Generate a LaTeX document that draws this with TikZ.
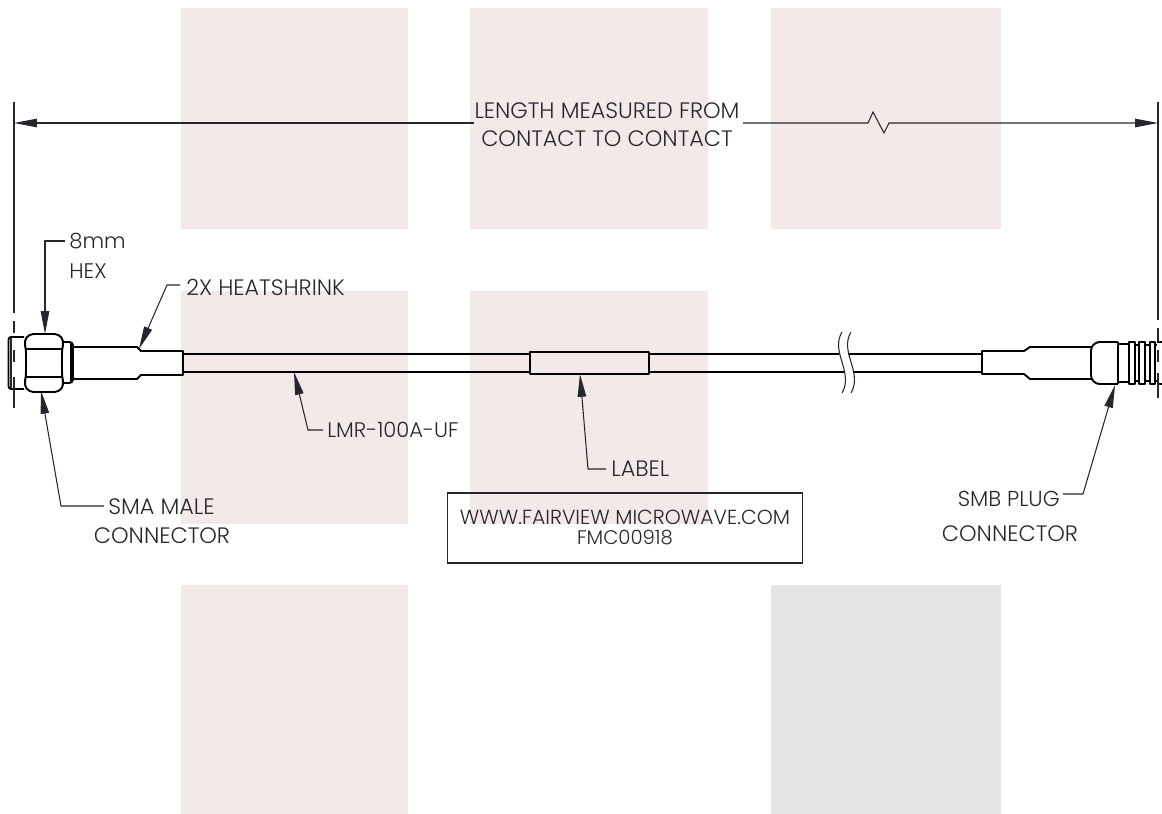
\documentclass[tikz,border=0pt]{standalone}
\usepackage{fontspec}
\setmainfont{Poppins}[UprightFont=* Light]
\usetikzlibrary{arrows.meta}
\definecolor{blockpink}{HTML}{F4E9E9}
\definecolor{blockgray}{HTML}{E4E4E4}
\definecolor{inkgray}{HTML}{26262E}
\tikzset{
  block/.style={fill=blockpink},
  part/.style={draw=black, line width=1.1pt, line join=round},
  thinline/.style={draw=inkgray, line width=0.6pt},
  leader/.style={thinline, -{Stealth[length=13pt, width=4.8pt, inset=0pt]}},
  caption/.style={text=inkgray, font=\fontsize{12.7}{14}\selectfont, inner sep=0pt},
}
\begin{document}
\begin{tikzpicture}[x=0.02cm, y=-0.02cm]
      \useasboundingbox (0, 0) rectangle (1162, 814);
      % background blocks
      \foreach \xa/\xb in {181/408, 470/708, 771/1001}{
        \fill[block] (\xa, 8) rectangle (\xb, 229); }
      \foreach \xa/\xb in {181/408, 470/708}{
        \fill[block] (\xa, 291) rectangle (\xb, 524); }
      \fill[block] (181, 585) rectangle (408, 814);
      \fill[blockgray] (771, 585) rectangle (1001, 814);

      % cable
      \draw[part] (183, 354) -- (530, 354) (183, 372) -- (530, 372);
      \draw[part] (649, 354) -- (839, 354) (848, 354) -- (982, 354);
      \draw[part] (649, 372) -- (845, 372) (854, 372) -- (982, 372);
      \draw[part] (530, 352) rectangle (649, 374);
      \draw[thinline] (842, 332) .. controls (830, 352) and (854, 372) .. (842, 393);
      \draw[thinline] (851, 332) .. controls (839, 352) and (863, 372) .. (851, 393);

      % SMA connector
      \draw[part, rounded corners=1.5pt] (24, 337) -- (8.5, 337) -- (8.5, 389) -- (24, 389);
      \draw[thinline] (11, 338) -- (11, 388);
      \draw[part, rounded corners=2.5pt] (24, 341) -- (29, 334) -- (59, 334) -- (64, 341) -- (62, 349)
        -- (62, 377) -- (64, 385) -- (59, 392) -- (29, 392) -- (24, 385) -- (26, 377) -- (26, 349) -- cycle;
      \draw[part] (26, 349) -- (62, 349) (26, 377) -- (62, 377);
      \draw[part, rounded corners=2pt] (64, 342) -- (73, 342) -- (73, 383) -- (64, 383);
      \draw[part] (71, 343) -- (71, 382);
      \draw[part] (73, 347) -- (137, 347) -- (141, 351) -- (183, 351) -- (183, 375)
        -- (141, 375) -- (137, 379) -- (73, 379);

      % SMB connector
      \draw[part] (1092, 347) -- (1030, 347) -- (1024, 351) -- (982, 351) -- (982, 374)
        -- (1024, 374) -- (1030, 379) -- (1092, 379);
      \draw[part, rounded corners=5pt] (1118, 342) -- (1091, 342) -- (1091, 384) -- (1118, 384);
      \draw[part] (1118, 342) -- (1118, 384);
      \draw[part] (1118, 344) -- (1129, 344) (1118, 382) -- (1129, 382);
      \foreach \xa/\xb in {1129/1135, 1139/1145, 1150/1155}{
        \draw[part] (\xa, 342) rectangle (\xb, 384); }
      \draw[part] (1135, 345) -- (1139, 345) (1145, 345) -- (1150, 345) (1155, 345) -- (1157, 345)
        (1157, 342) -- (1162, 342);
      \draw[part] (1135, 381) -- (1139, 381) (1145, 381) -- (1150, 381) (1155, 381) -- (1157, 381)
        (1157, 384) -- (1162, 384);

      % extension lines
      \coordinate (extL) at (14, 123);
      \coordinate (extR) at (1158, 123);
      \draw[thinline] (14, 102) -- (14, 313) (14, 321) -- (14, 333) (14, 350) -- (14, 362)
        (14, 377) -- (14, 408);
      \draw[thinline] (1158, 102) -- (1158, 320) (1158, 328) -- (1158, 342) (1158, 350) -- (1158, 362)
        (1158, 373) -- (1158, 398);

      % overall length
      \node[caption, align=center] (length) at (607, 125) {LENGTH MEASURED FROM\\[2pt]CONTACT TO CONTACT};
      \coordinate (lenA) at (474, 123);
      \coordinate (lenB) at (743, 123);
      \draw[leader] (lenA) -- (extL);
      \draw[leader] (lenB) -- (868, 123) -- (873, 112) -- (884, 133) -- (889, 123) -- (extR);

      % callouts
      \node[caption, anchor=west, align=left, font=\fontsize{12}{14}\selectfont] (hex) at (69, 256) {8mm\\[3pt]HEX};
      \draw[leader] (65, 241) -- (45, 241) -- (45, 334);
      \node[caption, anchor=west] (shrink) at (186, 287) {2X HEATSHRINK};
      \draw[leader] (180, 285) -- (167, 285) -- (139, 349);
      \node[caption, anchor=west, font=\fontsize{12}{14}\selectfont] (lmr) at (327, 430) {LMR-100A-UF};
      \draw[leader] (323, 430) -- (308, 430) -- (294, 372);
      \node[caption, anchor=west] (labeltxt) at (611, 469) {LABEL};
      \draw[leader] (606, 469) -- (588, 469) -- (580, 374);
      \node[caption, anchor=west] (sma) at (108, 507) {SMA MALE};
      \node[caption] (smaconn) at (162, 536) {CONNECTOR};
      \draw[leader] (104, 506) -- (61, 506) -- (41, 391);
      \node[caption, anchor=east, font=\fontsize{12.3}{14}\selectfont] (smb) at (1060, 499) {SMB PLUG};
      \node[caption] (smbconn) at (1010, 534) {CONNECTOR};
      \draw[leader] (1063, 494) -- (1083, 494) -- (1115, 385);

      % part label
      \node[draw=inkgray, line width=0.6pt, minimum width=355*0.02cm, minimum height=70*0.02cm, inner sep=0pt] (tag) at (625, 528) {};
      \node[caption, font=\fontsize{11.6}{13}\selectfont] (tagurl) at (625, 517) {WWW.FAIRVIEW MICROWAVE.COM};
      \node[caption, font=\fontsize{11.2}{13}\selectfont] (tagno) at (625, 538) {FMC00918};
    \end{tikzpicture}
\end{document}
